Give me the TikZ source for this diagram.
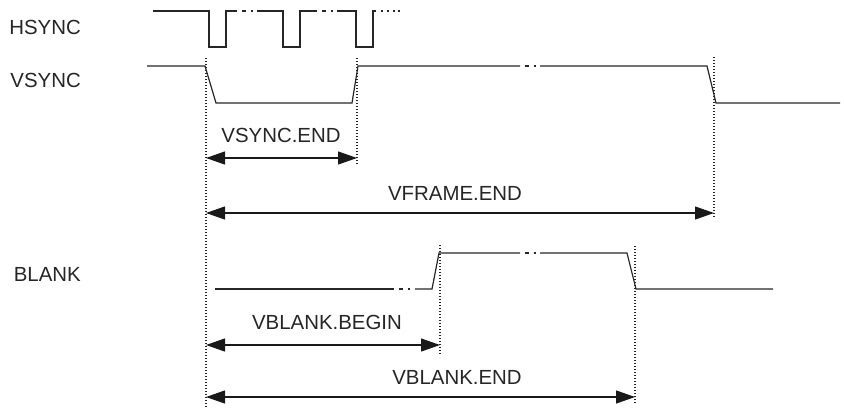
\documentclass[tikz,border=0pt]{standalone}
\usepackage{fontspec}
\setmainfont{Liberation Sans}
\usetikzlibrary{arrows.meta}

\tikzset{
  wave/.style={line width=1.2bp, black!85, line join=miter},
  marker/.style={line width=1.2bp, black!85, dash pattern=on 1.4bp off 1.6bp},
  span/.style={line width=1.2bp, black!90,
    {Triangle[length=19bp,width=13bp]}-{Triangle[length=19bp,width=13bp]}},
  signame/.style={anchor=east, inner sep=0pt, text=black!85},
  spanlabel/.style={inner sep=0pt, text=black!85},
  every node/.style={font=\fontsize{20.5}{24}\selectfont}
}

% break in a line: dash and dot between #1 and #1+20 at height #2
\newcommand{\wavebreak}[2]{%
  \draw[wave] (#1+4.5,#2) -- (#1+9,#2) (#1+13.5,#2) -- (#1+15.5,#2);}

\begin{document}
\begin{tikzpicture}[x=1bp, y=-1bp]
\useasboundingbox (0,0) rectangle (844,411);

\def\yhh{11}; % hsync high
\def\yhl{47}; % hsync low
\def\yvh{66}; % vsync high
\def\yvl{103}; % vsync low
\def\ybh{253}; % blank high
\def\ybl{289}; % blank low

\def\xa{206}; % vsync start
\def\xb{357}; % vsync end
\def\xc{714}; % frame end
\def\xd{440}; % blank begin
\def\xe{635}; % blank end

% signal names
\node[signame] (hsync) at (81,27) {HSYNC};
\node[signame] (vsync) at (81,80) {VSYNC};
\node[signame] (blank) at (81,274) {BLANK};

% HSYNC
\draw[wave] (153,\yhh) -- (209,\yhh) -- (209,\yhl) -- (226,\yhl) -- (226,\yhh) -- (237,\yhh);
\wavebreak{237}{\yhh}
\draw[wave] (257,\yhh) -- (283,\yhh) -- (283,\yhl) -- (300,\yhl) -- (300,\yhh) -- (317,\yhh);
\wavebreak{317}{\yhh}
\draw[wave] (337,\yhh) -- (356,\yhh) -- (356,\yhl) -- (373,\yhl) -- (373,\yhh) -- (376,\yhh);
\foreach \x in {381,387,393,398}
  \draw[wave] (\x,\yhh) -- (\x+1.5,\yhh);

% VSYNC
\draw[wave] (147,\yvh) -- (205,\yvh) -- (216,\yvl) -- (352,\yvl) -- (358,\yvh) -- (520,\yvh);
\wavebreak{520}{\yvh}
\draw[wave] (540,\yvh) -- (707,\yvh) -- (716,\yvl) -- (840,\yvl);

% BLANK
\draw[wave] (215,\ybl) -- (394,\ybl);
\wavebreak{394}{\ybl}
\draw[wave] (415,\ybl) -- (432,\ybl) -- (439,\ybh) -- (520,\ybh);
\wavebreak{520}{\ybh}
\draw[wave] (540,\ybh) -- (627,\ybh) -- (636,\ybl) -- (773,\ybl);

% markers
\coordinate (mA1) at (\xa,58);  \coordinate (mA2) at (\xa,408);
\coordinate (mB1) at (\xb,58);  \coordinate (mB2) at (\xb,166);
\coordinate (mC1) at (\xc,57);  \coordinate (mC2) at (\xc,219);
\coordinate (mD1) at (\xd,245); \coordinate (mD2) at (\xd,354);
\coordinate (mE1) at (\xe,246); \coordinate (mE2) at (\xe,404);
\foreach \m in {A,B,C,D,E}
  \draw[marker] (m\m1) -- (m\m2);

% spans
\coordinate (s1l) at (\xa,158); \coordinate (s1r) at (\xb,158);
\coordinate (s2l) at (\xa,213); \coordinate (s2r) at (\xc,213);
\coordinate (s3l) at (\xa,345); \coordinate (s3r) at (\xd,345);
\coordinate (s4l) at (\xa,397); \coordinate (s4r) at (\xe,397);
\draw[span] (s1l) -- (s1r);
\draw[span] (s2l) -- (s2r);
\draw[span] (s3l) -- (s3r);
\draw[span] (s4l) -- (s4r);

\node[spanlabel] (vsyncend) at (281,135.5) {VSYNC.END};
\node[spanlabel] (vframeend) at (455,193) {VFRAME.END};
\node[spanlabel] (vblankbegin) at (327,322) {VBLANK.BEGIN};
\node[spanlabel] (vblankend) at (457,377) {VBLANK.END};

\end{tikzpicture}
\end{document}
